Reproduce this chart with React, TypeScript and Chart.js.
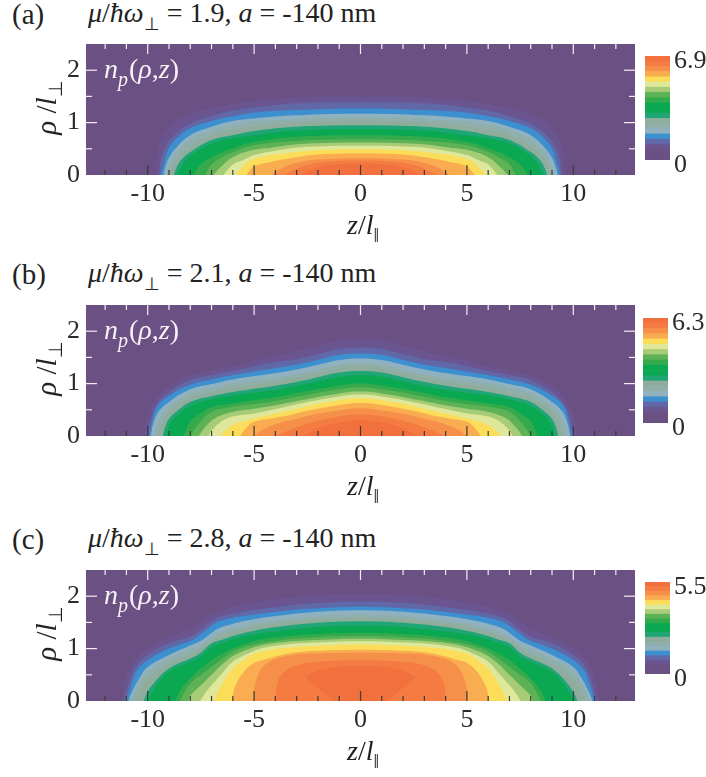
import { useEffect, useRef } from "react"
import type { CSSProperties, ReactNode } from "react"
import { Chart, registerables } from "chart.js"

Chart.register(...registerables)

const serif = '"Liberation Serif", "Times New Roman", serif'

const zRange = [-12.9, 12.9]
const rhoRange = [0, 2.5]
const zTicks = [-10, -5, 0, 5, 10]
const rhoTicks = [0, 1, 2]
const zMinorTicks = [-12, -11, -9, -8, -7, -6, -4, -3, -2, -1, 1, 2, 3, 4, 6, 7, 8, 9, 11, 12]
const rhoMinorTicks = [0.5, 1.5]

const backgroundColor = "#6b5083"

// contour colours, outermost level first
const contourColors = [
  "#6a5590", "#6068a8", "#3c90d0", "#8fb1c0", "#90aeaa", "#8fac9d", "#20a676", "#0aa850",
  "#34aa4c", "#5db255", "#a7cc78", "#dfe79a", "#fbdd5a", "#f9ad50", "#f68f4a", "#f47c42", "#f2703e",
]

// colour bar from the bottom up
const barColors = [
  "#6b5083", "#6b5083", "#6a5590", "#6068a8", "#3c90d0", "#8fb1c0", "#90aeaa", "#8fac9d", "#20a676", "#0aa850",
  "#0aa850", "#34aa4c", "#5db255", "#a7cc78", "#dfe79a", "#fbdd5a", "#f9ad50", "#f68f4a", "#f47c42", "#f2703e",
]

type Pt = [number, number]

// right half of every contour as [z, rho], the density is mirror symmetric in z
const contoursA: Pt[][] = [
  [[0, 1.5], [3, 1.48], [6, 1.36], [7.7, 1.2], [8.7, 1.02], [9.3, 0.72], [9.55, 0.4], [9.62, 0]],
  [[0, 1.39], [3, 1.37], [5, 1.29], [6, 1.23], [7, 1.12], [8, 0.98], [8.7, 0.78], [9.15, 0.55], [9.38, 0.28], [9.47, 0]],
  [[0, 1.27], [3, 1.24], [5, 1.19], [6, 1.12], [7, 1.03], [8, 0.89], [8.6, 0.71], [9, 0.51], [9.2, 0.27], [9.38, 0]],
  [[0, 1.17], [3, 1.14], [5, 1.08], [6, 1.03], [7, 0.92], [8, 0.76], [8.6, 0.55], [9, 0.33], [9.15, 0.18], [9.27, 0]],
  [[0, 1.1], [3, 1.07], [6, 0.96], [7.4, 0.79], [8.1, 0.64], [8.65, 0.44], [8.95, 0.22], [9.1, 0]],
  [[0, 1.03], [3, 1], [6, 0.86], [7.2, 0.72], [7.95, 0.55], [8.5, 0.36], [8.8, 0.18], [8.95, 0]],
  [[0, 0.95], [3, 0.92], [5, 0.84], [6, 0.76], [7, 0.67], [8, 0.44], [8.4, 0.3], [8.65, 0.14], [8.77, 0]],
  [[0, 0.88], [3, 0.85], [5, 0.76], [6, 0.7], [7, 0.6], [7.8, 0.42], [8.2, 0.28], [8.45, 0.13], [8.57, 0]],
  [[0, 0.76], [3, 0.73], [5, 0.63], [6, 0.51], [7, 0.34], [7.5, 0.2], [7.86, 0]],
  [[0, 0.68], [3, 0.65], [5, 0.57], [6, 0.44], [6.6, 0.32], [7, 0.2], [7.3, 0]],
  [[0, 0.62], [2.8, 0.59], [4.2, 0.52], [5, 0.48], [6, 0.34], [6.6, 0.14], [6.92, 0]],
  [[0, 0.56], [2.8, 0.53], [4.2, 0.45], [5, 0.38], [5.6, 0.27], [6, 0.2], [6.44, 0]],
  [[0, 0.49], [2.5, 0.46], [3.8, 0.4], [4.6, 0.35], [5.2, 0.27], [5.6, 0.13], [5.9, 0]],
  [[0, 0.41], [2, 0.39], [3.3, 0.32], [4.2, 0.25], [5, 0.16], [5.37, 0]],
  [[0, 0.32], [1.8, 0.3], [2.8, 0.25], [3.6, 0.15], [4.2, 0]],
  [[0, 0.27], [1.6, 0.25], [2.6, 0.18], [3.6, 0]],
  [[0, 0.22], [1.2, 0.2], [2.2, 0.12], [2.85, 0]],
]

const contoursB: Pt[][] = [
  [[0, 1.86], [1, 1.83], [2, 1.72], [3, 1.62], [4.3, 1.51], [6, 1.33], [7, 1.25], [8, 1.16], [9, 0.95], [9.6, 0.72], [10, 0.4], [10.15, 0]],
  [[0, 1.69], [1, 1.66], [2, 1.56], [3, 1.47], [4.2, 1.4], [6, 1.24], [7, 1.16], [8, 1.07], [9, 0.84], [9.5, 0.65], [9.8, 0.4], [10.03, 0]],
  [[0, 1.575], [1, 1.55], [2, 1.45], [3, 1.36], [4.1, 1.29], [6, 1.16], [7, 1.08], [8, 0.98], [9, 0.77], [9.5, 0.59], [9.73, 0.37], [9.93, 0]],
  [[0, 1.48], [1, 1.45], [2, 1.36], [3, 1.27], [4, 1.2], [6, 1.08], [7, 0.99], [8, 0.89], [9, 0.65], [9.5, 0.46], [9.75, 0.22], [9.85, 0]],
  [[0, 1.39], [1, 1.36], [2, 1.27], [3, 1.18], [4, 1.11], [6, 1], [7, 0.91], [8, 0.81], [9, 0.55], [9.4, 0.36], [9.6, 0.18], [9.7, 0]],
  [[0, 1.32], [1, 1.29], [2, 1.2], [3, 1.11], [4, 1.04], [6, 0.92], [7, 0.83], [8, 0.73], [9, 0.46], [9.3, 0.25], [9.45, 0.1], [9.5, 0]],
  [[0, 1.24], [1, 1.21], [2, 1.12], [3, 1.03], [4, 0.96], [6, 0.84], [7, 0.76], [8, 0.65], [8.7, 0.45], [9, 0.33], [9.2, 0.15], [9.3, 0]],
  [[0, 1.16], [1, 1.13], [2, 1.04], [3, 0.96], [4, 0.88], [6, 0.78], [7, 0.7], [8, 0.57], [8.6, 0.4], [9, 0.2], [9.14, 0]],
  [[0, 1], [1.5, 0.93], [3, 0.82], [4, 0.74], [5, 0.68], [6, 0.62], [7, 0.55], [7.7, 0.38], [8, 0.28], [8.33, 0]],
  [[0, 0.93], [1.5, 0.86], [3, 0.75], [4, 0.67], [5, 0.61], [6, 0.56], [7, 0.46], [7.6, 0.24], [8, 0]],
  [[0, 0.85], [1.5, 0.78], [2.8, 0.68], [3.8, 0.6], [5, 0.52], [6, 0.46], [6.8, 0.35], [7.3, 0.17], [7.6, 0]],
  [[0, 0.79], [1.5, 0.72], [2.8, 0.62], [3.7, 0.54], [5, 0.43], [6, 0.37], [6.6, 0.26], [7, 0.1], [7.15, 0]],
  [[0, 0.72], [1.5, 0.65], [2.6, 0.56], [3.5, 0.47], [4.6, 0.37], [5.4, 0.29], [6, 0.21], [6.4, 0.08], [6.6, 0]],
  [[0, 0.63], [1.5, 0.56], [2.5, 0.48], [3.3, 0.4], [4.1, 0.34], [5, 0.27], [5.4, 0.14], [5.66, 0]],
  [[0, 0.53], [1.3, 0.47], [2.3, 0.4], [3, 0.33], [3.8, 0.25], [4.6, 0.12], [5, 0]],
  [[0, 0.41], [1.2, 0.36], [2.1, 0.28], [2.9, 0.18], [4, 0]],
  [[0, 0.3], [1, 0.26], [1.8, 0.18], [2.75, 0]],
]

const contoursC: Pt[][] = [
  [[0, 2.05], [2.4, 2.01], [4, 1.94], [5.5, 1.84], [6.4, 1.75], [7, 1.66], [7.5, 1.52], [7.9, 1.4], [8.4, 1.31], [9, 1.21], [10, 1], [10.6, 0.78], [11.05, 0.4], [11.2, 0]],
  [[0, 1.9], [2.4, 1.86], [4, 1.79], [5.5, 1.71], [6.3, 1.64], [6.9, 1.55], [7.3, 1.42], [7.7, 1.3], [8.1, 1.21], [9, 1.1], [10, 0.88], [10.5, 0.69], [10.85, 0.38], [11.1, 0]],
  [[0, 1.8], [2.4, 1.76], [4, 1.7], [5.5, 1.62], [6.3, 1.56], [6.76, 1.5], [7.15, 1.39], [7.54, 1.27], [7.93, 1.16], [9, 1], [10, 0.78], [10.5, 0.59], [10.75, 0.34], [11, 0]],
  [[0, 1.73], [2.4, 1.69], [4, 1.62], [5.4, 1.53], [6.2, 1.45], [6.7, 1.38], [7.1, 1.27], [7.5, 1.15], [8, 1.06], [9, 0.88], [10, 0.65], [10.4, 0.43], [10.75, 0.16], [10.9, 0]],
  [[0, 1.65], [2.4, 1.61], [4, 1.54], [5.3, 1.45], [6.1, 1.37], [6.6, 1.3], [7, 1.2], [7.5, 1.07], [8, 0.98], [9, 0.8], [10, 0.56], [10.4, 0.33], [10.6, 0.18], [10.8, 0]],
  [[0, 1.59], [2.4, 1.55], [4, 1.48], [5.2, 1.39], [6, 1.31], [6.5, 1.24], [7, 1.14], [7.5, 1], [8, 0.9], [9, 0.7], [10, 0.43], [10.3, 0.25], [10.6, 0]],
  [[0, 1.52], [2.4, 1.48], [4, 1.41], [5.1, 1.33], [6, 1.24], [6.5, 1.17], [7, 1.1], [7.5, 0.92], [8, 0.81], [9, 0.62], [9.7, 0.35], [10, 0.18], [10.2, 0]],
  [[0, 1.44], [2.4, 1.4], [4, 1.33], [5, 1.27], [6, 1.18], [6.5, 1.11], [7, 1.03], [7.5, 0.85], [8, 0.75], [9, 0.56], [9.6, 0.3], [9.9, 0.1], [10.08, 0]],
  [[0, 1.3], [2.4, 1.27], [4, 1.21], [5, 1.14], [6, 1], [6.5, 0.9], [7, 0.78], [7.5, 0.62], [8, 0.43], [8.4, 0.25], [8.71, 0]],
  [[0, 1.24], [2.4, 1.21], [3.8, 1.16], [4.9, 1.09], [5.6, 1.01], [6, 0.94], [6.5, 0.8], [7, 0.65], [7.5, 0.5], [8, 0.34], [8.3, 0.15], [8.48, 0]],
  [[0, 1.19], [2.4, 1.16], [3.7, 1.12], [4.7, 1.06], [5.4, 0.97], [6, 0.86], [6.5, 0.7], [7, 0.5], [7.5, 0.3], [8, 0.1], [8.09, 0]],
  [[0, 1.14], [2.4, 1.11], [3.5, 1.08], [4.5, 1.02], [5.2, 0.92], [6, 0.75], [6.5, 0.53], [7, 0.3], [7.3, 0.15], [7.54, 0]],
  [[0, 1.08], [2.2, 1.05], [3.3, 1.02], [4.2, 0.98], [5, 0.9], [5.5, 0.78], [6, 0.62], [6.5, 0.32], [6.91, 0]],
  [[0, 0.98], [2, 0.96], [3, 0.93], [3.9, 0.86], [4.6, 0.78], [5, 0.73], [5.5, 0.55], [5.9, 0.27], [6.05, 0]],
  [[0, 0.92], [1.8, 0.91], [3.3, 0.87], [4.4, 0.72], [4.9, 0.4], [5.05, 0]],
  [[0, 0.78], [2, 0.75], [3, 0.68], [3.6, 0.55], [3.9, 0.35], [4, 0]],
]

// in (c) the top level is a closed island that lifts off the axis
const islandUpperC: Pt[] = [[0, 0.67], [1, 0.66], [2, 0.58], [2.6, 0.45]]
const islandLowerC: Pt[] = [[0, 0], [1.25, 0], [2.6, 0.45]]

const mirror = (half: Pt[]) => {
  const left = half.slice(1).reverse().map(([z, rho]) => ({ x: -z, y: rho }))
  return [...left, ...half.map(([z, rho]) => ({ x: z, y: rho }))]
}

// scales keep half a label of padding by default, which shrinks the plot
const noPadding = (s: any) => {
  s.paddingTop = 0
  s.paddingBottom = 0
  s.paddingLeft = 0
  s.paddingRight = 0
}

function ContourChart({ contours, island, top }: { contours: Pt[][]; island?: boolean; top: number }) {
  const chartRef = useRef<HTMLCanvasElement>(null)

  useEffect(() => {
    if (!chartRef.current) return

    const line = { showLine: true, pointRadius: 0, borderWidth: 0, borderColor: "transparent", tension: 0.4 }

    const datasets: any[] = [
      {
        ...line,
        data: [{ x: zRange[0], y: rhoRange[1] }, { x: zRange[1], y: rhoRange[1] }],
        fill: "origin",
        backgroundColor,
        order: 100,
      },
    ]
    contours.forEach((c, i) => {
      datasets.push({ ...line, data: mirror(c), fill: "origin", backgroundColor: contourColors[i], order: 50 - i })
    })
    if (island) {
      datasets.push({ ...line, data: mirror(islandUpperC), fill: "+1", backgroundColor: contourColors[16], order: 2 })
      datasets.push({ ...line, data: mirror(islandLowerC), fill: false, tension: 0, order: 1 })
    }

    const chart = new Chart(chartRef.current, {
      type: "scatter",
      data: { datasets },
      options: {
        animation: false,
        responsive: false,
        layout: { autoPadding: false, padding: { top: 10, right: 71, left: 0, bottom: 0 } },
        plugins: { legend: { display: false }, tooltip: { enabled: false } },
        scales: {
          x: {
            type: "linear",
            min: zRange[0],
            max: zRange[1],
            grid: { display: false, drawTicks: false },
            border: { display: false },
            afterBuildTicks: (s: any) => {
              s.ticks = zTicks.map((value) => ({ value }))
            },
            afterFit: (s: any) => {
              s.height = 50
              noPadding(s)
            },
            ticks: { color: "#2b2b2b", maxRotation: 0, autoSkip: false, padding: 4, font: { family: serif, size: 26 } },
          },
          y: {
            min: rhoRange[0],
            max: rhoRange[1],
            grid: { display: false, drawTicks: false },
            border: { display: false },
            afterBuildTicks: (s: any) => {
              s.ticks = rhoTicks.map((value) => ({ value }))
            },
            afterFit: (s: any) => {
              s.width = 86
              noPadding(s)
            },
            ticks: { color: "#2b2b2b", autoSkip: false, padding: 6, font: { family: serif, size: 26 } },
          },
        } as any,
      },
      plugins: [
        {
          id: "inwardTicks",
          afterDatasetsDraw(c: any) {
            const { ctx, chartArea: a, scales } = c
            const seg = (x0: number, y0: number, x1: number, y1: number) => {
              ctx.beginPath()
              ctx.moveTo(x0, y0)
              ctx.lineTo(x1, y1)
              ctx.stroke()
            }
            ctx.save()
            ctx.lineWidth = 1.2
            const xMarks: [number[], number][] = [[zTicks, 10], [zMinorTicks, 5]]
            xMarks.forEach(([values, len]) => {
              values.forEach((v) => {
                const px = scales.x.getPixelForValue(v)
                ctx.strokeStyle = "#f2eff2"
                seg(px, a.top, px, a.top + len)
                ctx.strokeStyle = "#3a3a3a"
                seg(px, a.bottom, px, a.bottom - len)
              })
            })
            ctx.strokeStyle = "#f2eff2"
            const yMarks: [number[], number][] = [[rhoTicks.slice(1), 11], [rhoMinorTicks, 6]]
            yMarks.forEach(([values, len]) => {
              values.forEach((v) => {
                const py = scales.y.getPixelForValue(v)
                seg(a.left, py, a.left + len, py)
                seg(a.right, py, a.right - len, py)
              })
            })
            ctx.restore()
          },
        },
      ],
    } as any)

    return () => {
      chart.destroy()
    }
  }, [contours, island])

  return <canvas ref={chartRef} width={706} height={191.25} style={{ position: "absolute", left: 0, top: top - 10 }} />
}

function ColorBar({ max, left, top, height }: { max: number; left: number; top: number; height: number }) {
  const chartRef = useRef<HTMLCanvasElement>(null)

  useEffect(() => {
    if (!chartRef.current) return

    const chart = new Chart(chartRef.current, {
      type: "bar",
      data: {
        labels: [""],
        datasets: barColors.map((color) => ({
          data: [max / barColors.length],
          backgroundColor: color,
          barPercentage: 1,
          categoryPercentage: 1,
          borderWidth: 0,
        })),
      },
      options: {
        animation: false,
        responsive: false,
        layout: { autoPadding: false, padding: { top: 16, bottom: 16, left: 0, right: 0 } },
        plugins: { legend: { display: false }, tooltip: { enabled: false } },
        scales: {
          x: { display: false, stacked: true },
          y: {
            stacked: true,
            position: "right",
            min: 0,
            max,
            grid: { display: false, drawTicks: false },
            border: { display: false },
            afterBuildTicks: (s: any) => {
              s.ticks = [{ value: 0 }, { value: max }]
            },
            afterFit: (s: any) => {
              s.width = 36
              noPadding(s)
            },
            ticks: {
              color: "#2b2b2b",
              padding: 4,
              labelOffset: 5,
              font: { family: serif, size: 26 },
              callback: (v: any) => (v === 0 ? "0" : Number(v).toFixed(1)),
            },
          },
        } as any,
      },
    } as any)

    return () => {
      chart.destroy()
    }
  }, [max])

  return (
    <canvas
      ref={chartRef}
      width={61}
      height={height + 32}
      style={{ position: "absolute", left, top: top - 16 }}
    />
  )
}

function Txt({ x, y, size, color, style, children }: { x: number; y: number; size: number; color?: string; style?: CSSProperties; children: ReactNode }) {
  return (
    <div
      style={{
        position: "absolute",
        left: x,
        top: y,
        fontFamily: serif,
        fontSize: size,
        lineHeight: `${size + 4}px`,
        color: color ?? "#222",
        whiteSpace: "nowrap",
        ...style,
      }}
    >
      {children}
    </div>
  )
}

const Sub = ({ size, dy, children }: { size: number; dy: number; children: ReactNode }) => (
  <span style={{ position: "relative", top: dy, fontSize: size, fontStyle: "normal", lineHeight: 0 }}>{children}</span>
)

function Panel({ tag, mu, top, titleTop, contours, island, max, barLeft, barTop, barHeight }: any) {
  // top is the pixel row of rho = 2.5
  return (
    <>
      <ContourChart contours={contours} island={island} top={top} />
      <ColorBar max={max} left={barLeft} top={barTop} height={barHeight} />
      <Txt x={12} y={titleTop - 3} size={29}>{tag}</Txt>
      <Txt x={88} y={titleTop - 4} size={28}>
        <i>μ</i>/<i>ħω</i>
        <Sub size={18} dy={8}>⊥</Sub> = {mu}, <i>a</i> = -140 nm
      </Txt>
      <Txt x={104} y={top + 9} size={28} color="#f6f2f6">
        <i>n</i>
        <Sub size={20} dy={8}><i>p</i></Sub>
        <span style={{ marginLeft: 1 }}>(</span><i>ρ</i>,<i>z</i>)
      </Txt>
      <Txt x={14} y={top + 47} size={29} style={{ width: 64, textAlign: "center", transform: "rotate(-90deg)" }}>
        <i>ρ</i> /<i>l</i>
        <Sub size={19} dy={6}>⊥</Sub>
      </Txt>
      <Txt x={347} y={top + 165} size={28}>
        <i>z</i>/<i>l</i>
        <Sub size={20} dy={8}>‖</Sub>
      </Txt>
    </>
  )
}

export default function App() {
  return (
    <div style={{ position: "fixed", left: 0, top: 0, width: 706, height: 777, background: "#fff", overflow: "hidden" }}>
      <Panel tag="(a)" mu="1.9" top={43.75} titleTop={1} contours={contoursA} max={6.9} barLeft={645} barTop={56} barHeight={104} />
      <Panel tag="(b)" mu="2.1" top={304.75} titleTop={261} contours={contoursB} max={6.3} barLeft={643} barTop={318} barHeight={105} />
      <Panel tag="(c)" mu="2.8" top={569.75} titleTop={526} contours={contoursC} island max={5.5} barLeft={645} barTop={582} barHeight={92} />
    </div>
  )
}
